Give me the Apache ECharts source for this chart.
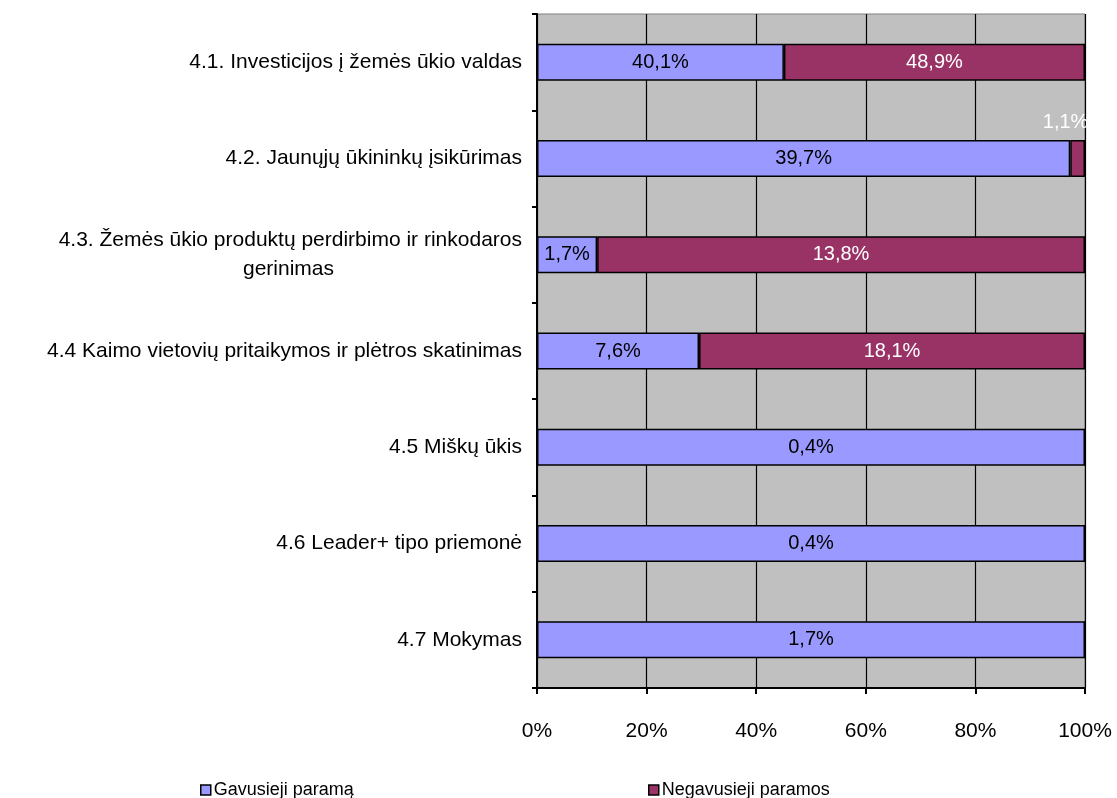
<!DOCTYPE html>
<html>
<head>
<meta charset="utf-8">
<script src="https://cdn.jsdelivr.net/npm/echarts@6/dist/echarts.min.js"></script>
<style>
    html, body { margin: 0; padding: 0; background: #fff; }
    #chart { width: 1117px; height: 798px; }
</style>
</head>
<body>
<div id="chart"></div>
<script>
var categories = [
    '4.1. Investicijos į žemės ūkio valdas',
    '4.2. Jaunųjų ūkininkų įsikūrimas',
    '4.3. Žemės ūkio produktų perdirbimo ir rinkodaros\ngerinimas',
    '4.4 Kaimo vietovių pritaikymos ir plėtros skatinimas',
    '4.5 Miškų ūkis',
    '4.6 Leader+ tipo priemonė',
    '4.7 Mokymas'
];
var seriesNames = ['Gavusieji paramą', 'Negavusieji paramos'];
// procentai, rodomi etiketėse
var gavusieji = [40.1, 39.7, 1.7, 7.6, 0.4, 0.4, 1.7];
var negavusieji = [48.9, 1.1, 13.8, 18.1, 0, 0, 0];
var xTicks = [0, 20, 40, 60, 80, 100];

var FONT = '"Liberation Sans", Arial, sans-serif';

// juostos - 100% sudėtinės, todėl skaičiuojam dalis
function shares(own, other) {
    return own.map(function(v, i) {
        var sum = v + other[i];
        return {
            value: sum ? v / sum * 100 : 0,
            raw: v
        };
    });
}

function fmt(p) {
    if (!p.data.raw) return '';
    return p.data.raw.toFixed(1).replace('.', ',') + '%';
}

var gotData = shares(gavusieji, negavusieji);
var notData = shares(negavusieji, gavusieji);
// mažos reikšmės etiketė virš juostos
notData[1].label = { position: 'top', offset: [-12, -4], distance: 3 };

var legendBase = {
    top: 776,
    itemWidth: 10,
    itemHeight: 10,
    itemGap: 4,
    icon: 'rect',
    textStyle: { fontSize: 18, color: '#000', fontFamily: FONT, padding: [0, 0, 0, -2] },
    itemStyle: { borderColor: '#000', borderWidth: 1.5 }
};

var chart = echarts.init(document.getElementById('chart'));
chart.setOption({
    animation: false,
    textStyle: { fontFamily: FONT },
    grid: {
        left: 537,
        right: 32,
        top: 14,
        bottom: 110,
        show: true,
        backgroundColor: '#C0C0C0',
        borderColor: '#808080',
        borderWidth: 1,
        outerBoundsMode: 'none'
    },
    legend: [
        Object.assign({}, legendBase, { left: 195, data: [seriesNames[0]] }),
        Object.assign({}, legendBase, { left: 643, data: [seriesNames[1]] })
    ],
    xAxis: {
        type: 'value',
        min: xTicks[0],
        max: xTicks[xTicks.length - 1],
        interval: 20,
        axisLine: { show: true, lineStyle: { color: '#000', width: 2 } },
        axisTick: { show: true, length: 6, lineStyle: { color: '#000', width: 2 } },
        axisLabel: {
            formatter: '{value}%',
            margin: 33,
            fontSize: 21,
            color: '#000',
            fontFamily: FONT
        },
        splitLine: { show: true, lineStyle: { color: '#000', width: 1.2 } }
    },
    yAxis: {
        type: 'category',
        inverse: true,
        data: categories,
        axisLine: { show: true, lineStyle: { color: '#000', width: 2 } },
        axisTick: { show: true, length: 5, lineStyle: { color: '#000', width: 2 } },
        axisLabel: {
            margin: 15,
            fontSize: 21,
            lineHeight: 29,
            color: '#000',
            fontFamily: FONT,
            formatter: function(v) {
                var parts = v.split('\n');
                if (parts.length === 1) return v;
                return parts[0] + '\n{c|' + parts[1] + '}';
            },
            rich: {
                c: { width: 467, align: 'center', fontSize: 21, lineHeight: 29, fontFamily: FONT, color: '#000' }
            }
        },
        splitLine: { show: false }
    },
    series: [{
        name: seriesNames[0],
        type: 'bar',
        stack: 'all',
        barWidth: 37,
        data: gotData,
        itemStyle: { color: '#9999FF', borderColor: '#000', borderWidth: 1.5 },
        label: {
            show: true,
            position: 'inside',
            formatter: fmt,
            fontSize: 20,
            color: '#000',
            fontFamily: FONT
        }
    }, {
        name: seriesNames[1],
        type: 'bar',
        stack: 'all',
        barWidth: 37,
        data: notData,
        itemStyle: { color: '#993366', borderColor: '#000', borderWidth: 1.5 },
        label: {
            show: true,
            position: 'inside',
            formatter: fmt,
            fontSize: 20,
            color: '#fff',
            fontFamily: FONT
        }
    }]
});
</script>
</body>
</html>
